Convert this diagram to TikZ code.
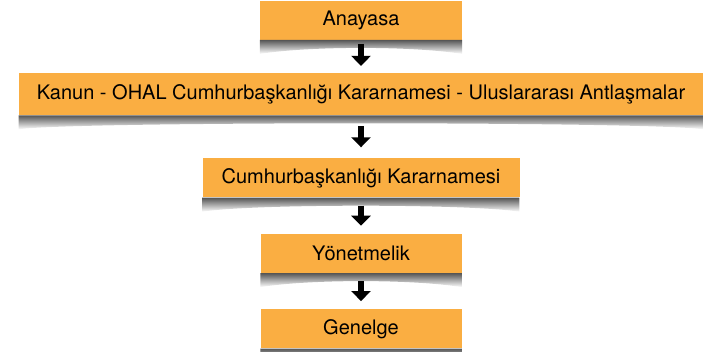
\documentclass[tikz,border=0pt]{standalone}
\usepackage{fontspec}
\setmainfont{TeX Gyre Heros}
\usepackage{tikz}
\usetikzlibrary{positioning,arrows.meta,fadings}

\definecolor{boxorange}{RGB}{250,174,66}
\definecolor{curlgray}{RGB}{85,85,85}

\begin{document}
\begin{tikzpicture}[lvl/.style={fill=boxorange, minimum height=39pt, inner sep=0pt, font=\fontsize{20}{22}\selectfont},
                    down/.style={-{Triangle[width=19pt,length=10pt]}, line width=6pt}]
    \useasboundingbox (0,0) rectangle (703pt,-352pt);
    \node[lvl,minimum width=202pt,anchor=north] (anayasa) at (361pt,-0.5pt) {Anayasa};
    \node[lvl,minimum width=684pt,minimum height=42pt,below=33pt of anayasa] (kanun) {Kanun - OHAL Cumhurbaşkanlığı Kararnamesi - Uluslararası Antlaşmalar};
    \node[lvl,minimum width=317pt,below=43pt of kanun] (cbk) {Cumhurbaşkanlığı Kararnamesi};
    \node[lvl,minimum width=201pt,below=36pt of cbk] (yonetmelik) {Yönetmelik};
    \node[lvl,minimum width=201pt,below=36pt of yonetmelik] (genelge) {Genelge};
    % curled paper shadows under the boxes
    \foreach \n in {anayasa,kanun,cbk,yonetmelik,genelge}
        \fill[curlgray, path fading=south] (\n.south west) -- (\n.south east)
            -- ([yshift=-14pt]\n.south east)
            .. controls ([xshift=-50pt,yshift=-6pt]\n.south east) and ([xshift=50pt,yshift=-6pt]\n.south west)
            .. ([yshift=-14pt]\n.south west) -- cycle;
    \draw[down,shorten <=4pt,shorten >=7pt] (anayasa.south) -- (kanun.north -| anayasa.south);
    \draw[down,shorten <=11pt,shorten >=11pt] (kanun.south -| anayasa.south) -- (cbk.north -| anayasa.south);
    \draw[down,shorten <=8pt,shorten >=8pt] (cbk.south -| anayasa.south) -- (yonetmelik.north -| anayasa.south);
    \draw[down,shorten <=8pt,shorten >=8pt] (yonetmelik.south) -- (genelge.north);
\end{tikzpicture}
\end{document}
